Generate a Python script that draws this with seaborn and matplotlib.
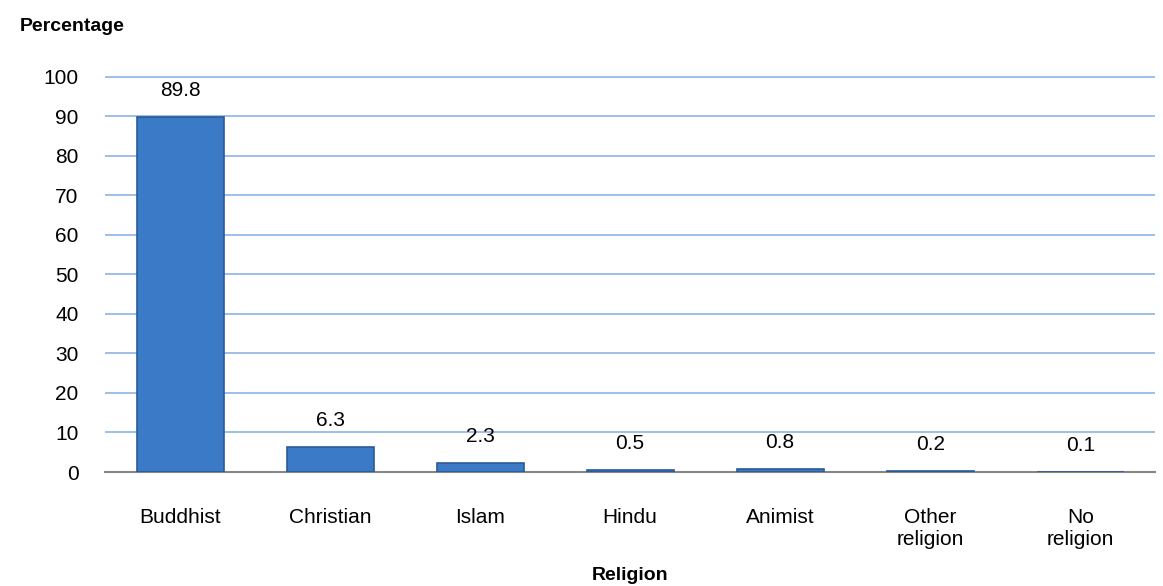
import pandas as pd
import seaborn as sns
import matplotlib.pyplot as plt

categories = ['Buddhist', 'Christian', 'Islam', 'Hindu', 'Animist', 'Other\nreligion', 'No\nreligion']
values = [89.8, 6.3, 2.3, 0.5, 0.8, 0.2, 0.1]
yticks = [0, 10, 20, 30, 40, 50, 60, 70, 80, 90, 100]

df = pd.DataFrame({'religion': categories, 'pct': values})

sns.set_style('white')
plt.rcParams['font.family'] = ['Liberation Sans Narrow', 'Liberation Sans', 'DejaVu Sans']

fig = plt.figure(figsize=(11.63, 5.86), dpi=100)
ax = fig.add_axes([0.0903, 0.1945, 0.903, 0.6775])

sns.barplot(data=df, x='religion', y='pct', color='#3b7ac6', width=0.58,
            edgecolor='#2a5a96', linewidth=1.2, saturation=1, ax=ax, zorder=3)

ax.set_ylim(0, 100.4)
ax.set_yticks(yticks)
ax.yaxis.grid(True, color='#8eb4e3', linewidth=1.2, zorder=0)
ax.set_axisbelow(True)
for s in ['left', 'right', 'top']:
    ax.spines[s].set_visible(False)
ax.spines['bottom'].set_color('#868686')
ax.spines['bottom'].set_linewidth(1.5)
ax.tick_params(axis='both', length=0, labelsize=15, labelcolor='black')
ax.tick_params(axis='y', pad=19)
ax.tick_params(axis='x', pad=26)

for i, v in enumerate(values):
    ax.text(i, v + 4.3, f'{v:.1f}', ha='center', va='bottom', fontsize=15, color='black')

ax.set_xlabel('Religion', fontsize=14, fontweight='bold', labelpad=13, color='black')
ax.set_ylabel('')
fig.text(0.017, 0.955, 'Percentage', fontsize=14, fontweight='bold', ha='left', va='center',
         color='black')

fig.savefig('out.png', dpi=100)
